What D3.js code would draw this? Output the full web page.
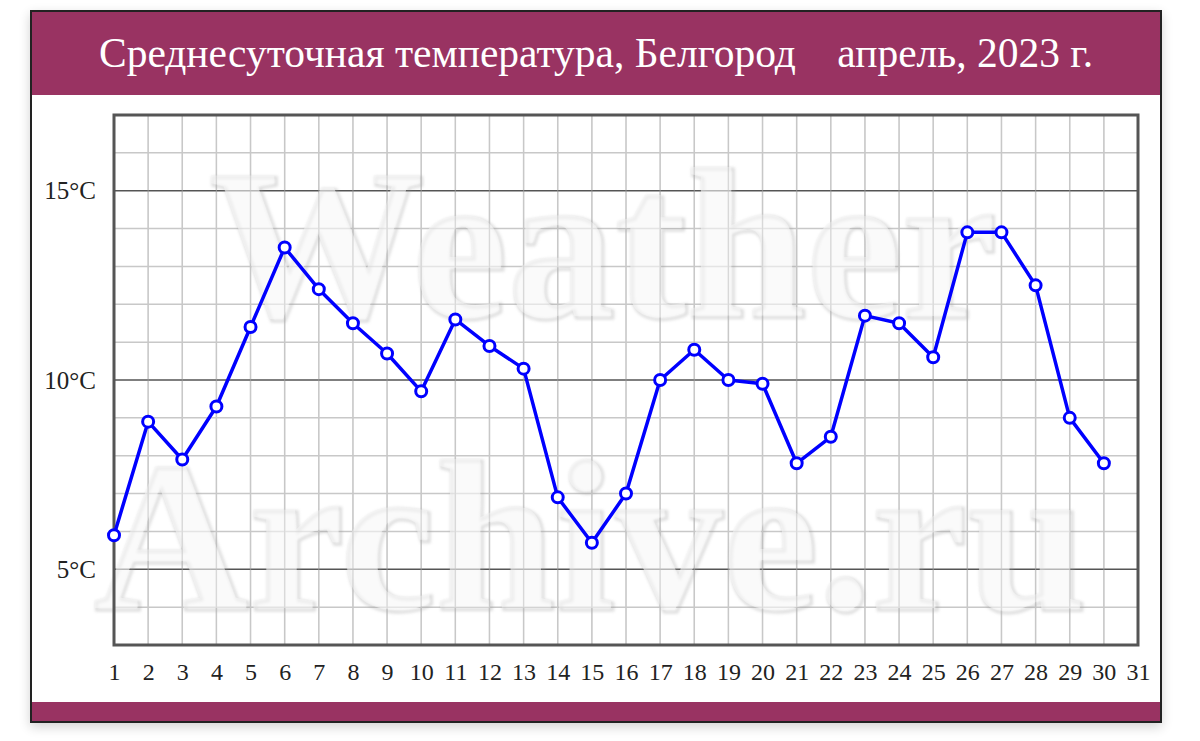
<!DOCTYPE html>
<html><head><meta charset="utf-8">
<script src="https://cdn.jsdelivr.net/npm/d3@7"></script>
<style>
html,body{margin:0;padding:0;background:#fff;}
svg{display:block;}
</style></head>
<body>
<svg id="chart" width="1200" height="741"></svg>
<script>
const titleText = "Среднесуточная температура, Белгород    апрель, 2023 г.";
const days = [1,2,3,4,5,6,7,8,9,10,11,12,13,14,15,16,17,18,19,20,21,22,23,24,25,26,27,28,29,30];
const temps = [5.9,8.9,7.9,9.3,11.4,13.5,12.4,11.5,10.7,9.7,11.6,10.9,10.3,6.9,5.7,7.0,10.0,10.8,10.0,9.9,7.8,8.5,11.7,11.5,10.6,13.9,13.9,12.5,9.0,7.8];
const xTickLabels = d3.range(1, 32);
const yMajorTicks = [5, 10, 15];
const yTickLabels = ["5°C", "10°C", "15°C"];
const yMinorTicks = d3.range(3, 18);
const watermark = ["Weather", "Archive.ru"];

const serif = "'Liberation Serif', 'Times New Roman', serif";
const svg = d3.select("#chart");
const defs = svg.append("defs");
const sh = defs.append("filter").attr("id","shadow").attr("x","-5%").attr("y","-5%").attr("width","110%").attr("height","110%");
sh.append("feGaussianBlur").attr("in","SourceAlpha").attr("stdDeviation",6);
sh.append("feOffset").attr("dx",0).attr("dy",4).attr("result","ob");
sh.append("feComponentTransfer").append("feFuncA").attr("type","linear").attr("slope",0.18);
const m = sh.append("feMerge"); m.append("feMergeNode"); m.append("feMergeNode").attr("in","SourceGraphic");
const wf = defs.append("filter").attr("id","wm").attr("x","-5%").attr("y","-5%").attr("width","110%").attr("height","110%");
wf.append("feGaussianBlur").attr("stdDeviation",1.5);

const card = {x:31, y:11, w:1130, h:711};
svg.append("rect").attr("x",card.x).attr("y",card.y).attr("width",card.w).attr("height",card.h)
  .attr("fill","#fff").attr("stroke","#222").attr("stroke-width",2).attr("filter","url(#shadow)");
svg.append("rect").attr("x",card.x).attr("y",card.y).attr("width",card.w).attr("height",84).attr("fill","#993362");
svg.append("rect").attr("x",card.x).attr("y",702).attr("width",card.w).attr("height",20).attr("fill","#993362");
svg.append("rect").attr("x",card.x).attr("y",card.y).attr("width",card.w).attr("height",card.h)
  .attr("fill","none").attr("stroke","#222").attr("stroke-width",2);

svg.append("text").attr("x",596).attr("y",67).attr("text-anchor","middle")
  .attr("font-family",serif).attr("font-size",41.5)
  .attr("fill","#fff").style("white-space","pre").text(titleText);

const x = d3.scaleLinear().domain([1,31]).range([114,1138]);
const y = d3.scaleLinear().domain([3,17]).range([645,115]);

// grid
const g = svg.append("g");
g.selectAll("line.v").data(xTickLabels).join("line")
  .attr("x1",d=>x(d)).attr("x2",d=>x(d)).attr("y1",y(17)).attr("y2",y(3))
  .attr("stroke","#c8c8c8").attr("stroke-width",1.5);
g.selectAll("line.h").data(yMinorTicks.filter(d=>!yMajorTicks.includes(d))).join("line")
  .attr("x1",x(1)).attr("x2",x(31)).attr("y1",d=>y(d)).attr("y2",d=>y(d))
  .attr("stroke","#c8c8c8").attr("stroke-width",1.5);

// watermark
const wm = svg.append("g").attr("font-family",serif)
  .attr("font-weight","bold").attr("font-size",215).attr("text-anchor","middle");
wm.selectAll("text.s").data(watermark).join("text")
  .attr("x",(d,i)=>i===0?604:591).attr("y",(d,i)=>i===0?318:610)
  .attr("fill","none").attr("stroke","#9a9a9a").attr("stroke-width",3).attr("opacity",0.35)
  .attr("filter","url(#wm)").text(d=>d);
wm.selectAll("text.f").data(watermark).join("text")
  .attr("x",(d,i)=>i===0?602:589).attr("y",(d,i)=>i===0?316:608)
  .attr("fill","#f6f6f6").attr("fill-opacity",0.6).text(d=>d);

// major horizontal lines
g.selectAll("line.maj").data(yMajorTicks).join("line")
  .attr("x1",x(1)).attr("x2",x(31)).attr("y1",d=>y(d)).attr("y2",d=>y(d))
  .attr("stroke","#555").attr("stroke-width",1.5);
svg.append("g").selectAll("line").data(xTickLabels).join("line")
  .attr("x1",d=>x(d)).attr("x2",d=>x(d)).attr("y1",y(17)).attr("y2",y(3))
  .attr("stroke","#c8c8c8").attr("stroke-width",1.2).attr("opacity",0.4);

// frame
svg.append("rect").attr("x",x(1)).attr("y",y(17)).attr("width",x(31)-x(1)).attr("height",y(3)-y(17))
  .attr("fill","none").attr("stroke","#555").attr("stroke-width",3);

// axes labels
const xAxis = d3.axisBottom(x).tickValues(xTickLabels).tickSize(0).tickPadding(0).tickFormat(d3.format("d"));
const xa = svg.append("g").attr("transform",`translate(0,${y(3)})`).call(xAxis);
xa.select(".domain").remove();
xa.selectAll("text").attr("y",35).attr("dy",0).attr("font-size",24)
  .attr("font-family",serif).attr("fill","#222");

const yAxis = d3.axisLeft(y).tickValues(yMajorTicks).tickSize(0).tickPadding(0)
  .tickFormat((d,i)=>yTickLabels[i]);
const ya = svg.append("g").attr("transform",`translate(96,0)`).call(yAxis);
ya.select(".domain").remove();
ya.selectAll("text").attr("x",0).attr("dy","0.33em").attr("font-size",25)
  .attr("font-family",serif).attr("fill","#222");

// line
const line = d3.line().x((d,i)=>x(days[i])).y(d=>y(d));
svg.append("path").datum(temps).attr("d",line).attr("fill","none")
  .attr("stroke","#0000ff").attr("stroke-width",3.5).attr("stroke-linejoin","round");
svg.append("g").selectAll("circle").data(temps).join("circle")
  .attr("cx",(d,i)=>x(days[i])).attr("cy",d=>y(d)).attr("r",5.5)
  .attr("fill","#fff").attr("stroke","#0000ff").attr("stroke-width",3);
</script>
</body></html>
